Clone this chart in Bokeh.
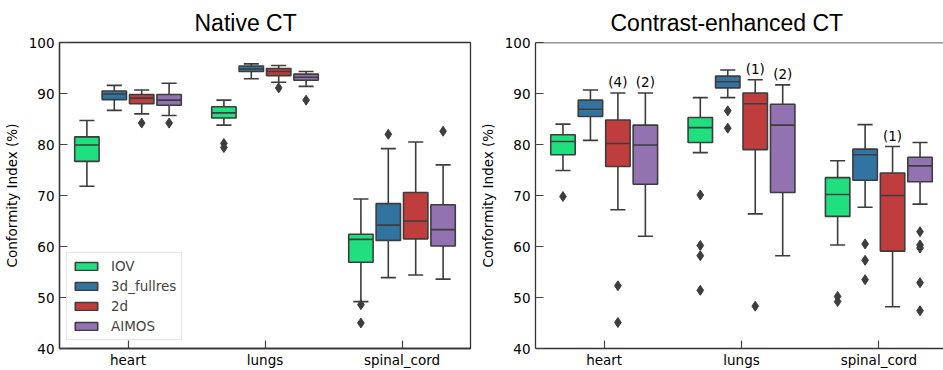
from bokeh.plotting import figure
from bokeh.models import Range1d, FixedTicker, ColumnDataSource, Legend, LegendItem, Span
from bokeh.layouts import row
from bokeh.embed import file_html
from bokeh.resources import INLINE
from bokeh.core.properties import value

categories = ["heart", "lungs", "spinal_cord"]
models = ["IOV", "3d_fullres", "2d", "AIMOS"]
colors = ["#20df7f", "#3274a1", "#c03d3e", "#9372b2"]
y_ticks = [40, 50, 60, 70, 80, 90, 100]

# ---- Native CT (rows: models, columns: categories) ----
native_low = [[71.8, 83.8, 49.2], [86.7, 92.9, 53.9], [86.0, 92.2, 54.4], [85.7, 91.4, 53.6]]
native_q1 = [[76.7, 85.2, 56.9], [88.8, 94.3, 61.2], [88.0, 93.5, 61.5], [87.7, 92.6, 60.1]]
native_med = [[79.9, 86.2, 61.4], [89.9, 94.8, 64.2], [89.1, 94.3, 65.0], [88.7, 93.2, 63.3]]
native_q3 = [[81.5, 87.4, 62.4], [90.5, 95.4, 68.4], [89.8, 94.9, 70.6], [89.8, 93.8, 68.2]]
native_high = [[84.7, 88.7, 69.3], [91.6, 95.8, 79.2], [90.7, 95.5, 80.5], [92.0, 94.3, 76.0]]
native_out = [
    [[], [80.2, 79.4], [48.6, 45.0]],
    [[], [], [82.0]],
    [[84.2], [91.1], []],
    [[84.2], [88.7], [82.6]],
]

# ---- Contrast-enhanced CT ----
ce_low = [[74.9, 78.4, 60.3], [80.8, 89.2, 67.7], [67.2, 66.4, 48.2], [62.0, 58.2, 68.3]]
ce_q1 = [[78.0, 80.4, 65.9], [85.5, 91.1, 73.0], [75.7, 79.0, 59.1], [72.2, 70.6, 72.7]]
ce_med = [[80.6, 83.3, 70.2], [86.9, 92.3, 78.0], [80.2, 88.0, 70.0], [79.9, 83.8, 75.8]]
ce_q3 = [[81.9, 85.3, 73.5], [88.7, 93.4, 79.1], [84.8, 90.1, 74.4], [83.8, 87.9, 77.5]]
ce_high = [[84.0, 89.2, 76.8], [90.7, 94.6, 83.9], [90.1, 92.7, 79.6], [90.1, 91.7, 80.4]]
ce_out = [
    [[69.8], [70.1, 60.2, 58.2, 51.4], [50.2, 49.2]],
    [[], [86.6, 83.2], [60.5, 57.3, 53.5]],
    [[52.3, 45.1], [48.3], []],
    [[], [], [62.9, 60.3, 59.7, 52.9, 47.4]],
]
ce_labels = ["(4)", "(2)", "(1)", "(2)", "(1)"]
ce_label_cat = ["heart", "heart", "lungs", "lungs", "spinal_cord"]
ce_label_model = ["2d", "AIMOS", "2d", "AIMOS", "2d"]

GRAY = "#3d3d3d"
AX = "#333333"
FONT = "DejaVu Sans"
BOX_W = 0.178
CAP_W = 0.11
HUE_STEP = 0.2
PX_PER_UNIT = 412 / 3.0


def make_panel(title, title_offset, width, min_left, min_right, x_end,
               lows, q1s, meds, q3s, highs, outs, legend):
    p = figure(width=width, height=370, output_backend="svg", toolbar_location=None,
               x_range=Range1d(-0.5, x_end), y_range=Range1d(40, 100),
               min_border_left=min_left, min_border_right=min_right,
               min_border_top=42, min_border_bottom=20)
    p.title.text = title
    p.title.align = "left"
    p.title.offset = title_offset
    p.title.text_font = "Liberation Sans"
    p.title.text_font_size = "23px"
    p.title.text_font_style = "normal"
    p.title.text_color = "black"
    p.title.standoff = 14
    p.grid.visible = False
    p.background_fill_color = "white"
    p.border_fill_color = "white"

    p.xaxis.ticker = FixedTicker(ticks=list(range(len(categories))))
    p.xaxis.major_label_overrides = {i: c for i, c in enumerate(categories)}
    p.yaxis.ticker = FixedTicker(ticks=y_ticks)
    p.yaxis.axis_label = "Conformity Index (%)"
    for ax in (p.xaxis, p.yaxis):
        ax.minor_tick_line_color = None
        ax.major_tick_in = 8
        ax.major_tick_out = 0
        ax.major_tick_line_color = "#444444"
        ax.major_tick_line_width = 1.2
        ax.axis_line_color = AX
        ax.axis_line_width = 1.3
        ax.major_label_text_font = FONT
        ax.major_label_text_font_size = "13.5px"
        ax.major_label_text_color = "black"
        ax.major_label_standoff = 5
    p.yaxis.axis_label_text_font = FONT
    p.yaxis.axis_label_text_font_size = "13.5px"
    p.yaxis.axis_label_text_font_style = "normal"
    p.yaxis.axis_label_text_color = "black"
    p.yaxis.axis_label_standoff = 6
    p.xaxis.major_label_standoff = 3

    renderers = []
    for i, m in enumerate(models):
        off = (i - (len(models) - 1) / 2) * HUE_STEP
        xs = [c + off for c in range(len(categories))]
        src = ColumnDataSource(dict(
            x=xs, lo=lows[i], q1=q1s[i], med=meds[i], q3=q3s[i], hi=highs[i],
            cl=[x - CAP_W / 2 for x in xs], cr=[x + CAP_W / 2 for x in xs],
            bl=[x - BOX_W / 2 for x in xs], br=[x + BOX_W / 2 for x in xs]))
        p.segment(x0="x", y0="q3", x1="x", y1="hi", source=src, line_color=GRAY, line_width=1.6)
        p.segment(x0="x", y0="lo", x1="x", y1="q1", source=src, line_color=GRAY, line_width=1.6)
        p.segment(x0="cl", y0="hi", x1="cr", y1="hi", source=src, line_color=GRAY, line_width=1.6)
        p.segment(x0="cl", y0="lo", x1="cr", y1="lo", source=src, line_color=GRAY, line_width=1.6)
        r = p.vbar(x="x", width=BOX_W, bottom="q1", top="q3", source=src,
                   fill_color=colors[i], line_color=GRAY, line_width=1.6)
        p.segment(x0="bl", y0="med", x1="br", y1="med", source=src, line_color=GRAY, line_width=1.6)
        ox, oy = [], []
        for c in range(len(categories)):
            for v in outs[i][c]:
                ox.append(xs[c])
                oy.append(v)
        if ox:
            p.scatter(ox, oy, marker="diamond", size=10, fill_color=GRAY, line_color=GRAY)
        renderers.append(r)

    if legend:
        lg = Legend(items=[LegendItem(label=m, renderers=[r]) for m, r in zip(models, renderers)],
                    location=(7, 8), glyph_width=28, glyph_height=10, label_height=16,
                    spacing=4, padding=5, margin=0, label_standoff=11,
                    label_text_font=FONT, label_text_font_size="13.5px",
                    border_line_color="#d0d0d0", border_line_width=1,
                    background_fill_alpha=0.85)
        p.add_layout(lg)
    return p


left = make_panel("Native CT", 135, 472, 58, 2, 2.5,
                  native_low, native_q1, native_med, native_q3, native_high, native_out, True)
left.outline_line_color = AX
left.outline_line_width = 1.3

right_frame = 943 - 472 - 63
right = make_panel("Contrast-enhanced CT", 75, 943 - 472, 63, 0, -0.5 + right_frame / PX_PER_UNIT,
                   ce_low, ce_q1, ce_med, ce_q3, ce_high, ce_out, False)
right.outline_line_color = None
right.add_layout(Span(location=100, dimension="width", line_color=AX, line_width=1.3))

# count annotations above whiskers
lx, ly = [], []
for cat, mod in zip(ce_label_cat, ce_label_model):
    ci = categories.index(cat)
    mi = models.index(mod)
    lx.append(ci + (mi - (len(models) - 1) / 2) * HUE_STEP)
    ly.append(ce_high[mi][ci])
right.text(x=lx, y=ly, text=ce_labels, text_align="center", text_baseline="middle",
           y_offset=-11, text_font=value(FONT), text_font_size="13.5px", text_color="black")

layout = row(left, right, spacing=0)
open("out.html", "w").write(file_html(layout, INLINE))
